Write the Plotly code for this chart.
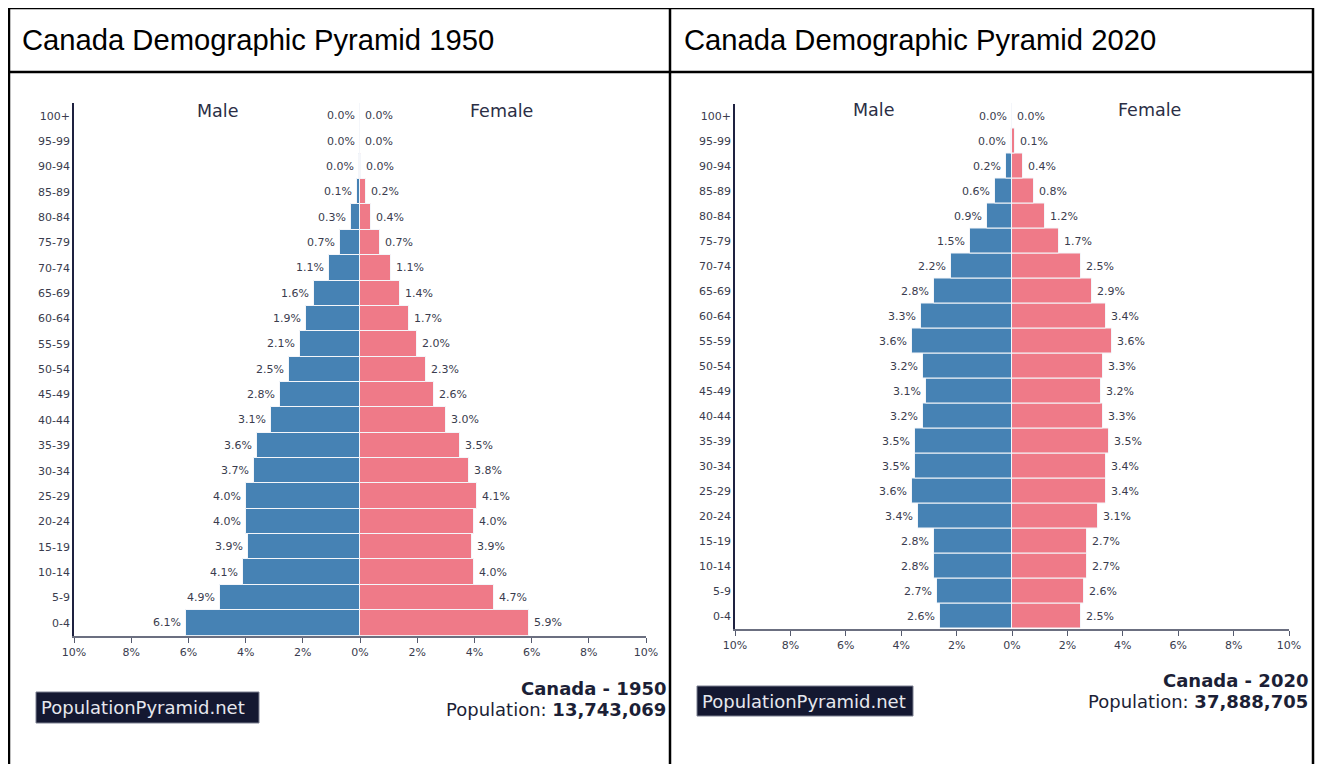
import plotly.graph_objects as go

# ---------------- data ----------------
ages = ["0-4", "5-9", "10-14", "15-19", "20-24", "25-29", "30-34", "35-39",
        "40-44", "45-49", "50-54", "55-59", "60-64", "65-69", "70-74",
        "75-79", "80-84", "85-89", "90-94", "95-99", "100+"]

male_1950 = [6.1, 4.9, 4.1, 3.9, 4.0, 4.0, 3.7, 3.6, 3.1, 2.8, 2.5, 2.1, 1.9,
             1.6, 1.1, 0.7, 0.3, 0.1, 0.03, 0.0, 0.0]
female_1950 = [5.9, 4.7, 4.0, 3.9, 4.0, 4.1, 3.8, 3.5, 3.0, 2.6, 2.3, 2.0, 1.7,
               1.4, 1.1, 0.7, 0.4, 0.2, 0.04, 0.01, 0.0]

male_2020 = [2.6, 2.7, 2.8, 2.8, 3.4, 3.6, 3.5, 3.5, 3.2, 3.1, 3.2, 3.6, 3.3,
             2.8, 2.2, 1.5, 0.9, 0.6, 0.2, 0.04, 0.0]
female_2020 = [2.5, 2.6, 2.7, 2.7, 3.1, 3.4, 3.4, 3.5, 3.3, 3.2, 3.3, 3.6, 3.4,
               2.9, 2.5, 1.7, 1.2, 0.8, 0.4, 0.1, 0.01]

tick_vals = [-10, -8, -6, -4, -2, 0, 2, 4, 6, 8, 10]
tick_text = ["10%", "8%", "6%", "4%", "2%", "0%", "2%", "4%", "6%", "8%", "10%"]

titles = ["Canada Demographic Pyramid 1950", "Canada Demographic Pyramid 2020"]
country_year = ["Canada - 1950", "Canada - 2020"]
populations = ["13,743,069", "37,888,705"]

# ---------------- style ----------------
PAGE_W, PAGE_H = 1324, 772
OFF = 8                      # default body margin of the page
W, H = PAGE_W - 2 * OFF, PAGE_H - 2 * OFF
MALE = "#4682b4"
FEMALE = "#ef7a88"
TXT = "#1c1f36"
FONT = "DejaVu Sans"


def fx(px):
    return (px - OFF) / W


def fy(py):
    return 1 - (py - OFF) / H


fig = go.Figure()

panels = [
    dict(male=male_1950, female=female_1950, xa="x", ya="y",
         x0=74, x1=646, y0=103, y1=635.5),
    dict(male=male_2020, female=female_2020, xa="x2", ya="y2",
         x0=735, x1=1289, y0=103.5, y1=628.5),
]

annotations = []
for p in panels:
    fig.add_trace(go.Bar(
        x=[-v for v in p["male"]], y=ages, orientation="h",
        marker=dict(color=MALE, line=dict(color="#f4f6fa", width=1)),
        xaxis=p["xa"], yaxis=p["ya"], showlegend=False, hoverinfo="skip"))
    fig.add_trace(go.Bar(
        x=p["female"], y=ages, orientation="h",
        marker=dict(color=FEMALE, line=dict(color="#f4f6fa", width=1)),
        xaxis=p["xa"], yaxis=p["ya"], showlegend=False, hoverinfo="skip"))
    for a, m, f in zip(ages, p["male"], p["female"]):
        annotations.append(dict(
            x=-m, y=a, xref=p["xa"], yref=p["ya"], text=f"{m:.1f}%",
            showarrow=False, xanchor="right", xshift=-3,
            font=dict(family=FONT, size=11, color="#3a3c4e")))
        annotations.append(dict(
            x=f, y=a, xref=p["xa"], yref=p["ya"], text=f"{f:.1f}%",
            showarrow=False, xanchor="left", xshift=3,
            font=dict(family=FONT, size=11, color="#3a3c4e")))

layout_axes = {}
for i, p in enumerate(panels):
    xk = "xaxis" if i == 0 else "xaxis2"
    yk = "yaxis" if i == 0 else "yaxis2"
    layout_axes[xk] = dict(
        domain=[fx(p["x0"]), fx(p["x1"])], anchor=p["ya"], automargin=False,
        range=[-10, 10], tickvals=tick_vals, ticktext=tick_text,
        ticks="outside", ticklen=5, tickcolor="#555a6e", tickwidth=1,
        showline=True, linecolor="#6b6f80", linewidth=2,
        showgrid=False, zeroline=False, fixedrange=True,
        tickfont=dict(family=FONT, size=11, color="#3a3c4e"))
    layout_axes[yk] = dict(
        domain=[fy(p["y1"]), fy(p["y0"])], anchor=p["xa"], automargin=False,
        type="category", categoryorder="array", categoryarray=ages,
        range=[-0.5, len(ages) - 0.5],
        showline=True, linecolor="#1e2140", linewidth=1.5,
        ticks="", showgrid=False, zeroline=False, fixedrange=True,
        tickfont=dict(family=FONT, size=11, color="#3a3c4e"))

# Male / Female headers
for x, y, t in [(217, 111, "Male"), (502, 111, "Female"),
                (873, 110, "Male"), (1149, 110, "Female")]:
    annotations.append(dict(x=fx(x), y=fy(y), xref="paper", yref="paper",
                            text=t, showarrow=False, xanchor="center",
                            yanchor="middle",
                            font=dict(family=FONT, size=17.5, color="#2b2e45")))

# Cell titles
for x, t in [(20, titles[0]), (682, titles[1])]:
    annotations.append(dict(x=fx(x), y=fy(40), xref="paper", yref="paper",
                            text=t, showarrow=False, xanchor="left",
                            yanchor="middle",
                            font=dict(family="Liberation Sans", size=29.2,
                                      color="#000000")))

# Country / population
for x, y1, y2, cy, pop in [(668, 688, 709, country_year[0], populations[0]),
                           (1310, 680, 701, country_year[1], populations[1])]:
    annotations.append(dict(x=fx(x), y=fy(y1), xref="paper", yref="paper",
                            text=f"<b>{cy}</b>", showarrow=False,
                            xanchor="right", yanchor="middle",
                            font=dict(family=FONT, size=18, color=TXT)))
    annotations.append(dict(x=fx(x), y=fy(y2), xref="paper", yref="paper",
                            text=f"Population: <b>{pop}</b>", showarrow=False,
                            xanchor="right", yanchor="middle",
                            font=dict(family=FONT, size=18, color=TXT)))

# Logo boxes
shapes = []
for bx0, bx1, by0, by1 in [(36, 259, 692, 723), (697, 913, 686, 716)]:
    shapes.append(dict(type="rect", xref="paper", yref="paper",
                       x0=fx(bx0), x1=fx(bx1), y0=fy(by1), y1=fy(by0),
                       fillcolor="#141831", line=dict(color="#7a7f90", width=1),
                       layer="above"))
    annotations.append(dict(x=fx(bx0 + 3), y=fy((by0 + by1) / 2),
                            xref="paper", yref="paper",
                            text="PopulationPyramid.net", showarrow=False,
                            xanchor="left", yanchor="middle",
                            font=dict(family=FONT, size=18, color="#e6e7ee")))

# Table borders
for x0, y0, x1, y1 in [(9, 8, 1313, 8), (9, 72, 1313, 72),
                       (9, 8, 9, 772), (670, 8, 670, 772),
                       (1313, 8, 1313, 772)]:
    shapes.append(dict(type="line", xref="paper", yref="paper",
                       x0=fx(x0), y0=fy(y0), x1=fx(x1), y1=fy(y1),
                       line=dict(color="#000000", width=2.5), layer="above"))

fig.update_layout(
    width=W, height=H, autosize=False,
    margin=dict(l=0, r=0, t=0, b=0, autoexpand=False),
    paper_bgcolor="white", plot_bgcolor="white",
    barmode="overlay", bargap=0,
    annotations=annotations, shapes=shapes,
    **layout_axes)

fig.write_html("out.html")
